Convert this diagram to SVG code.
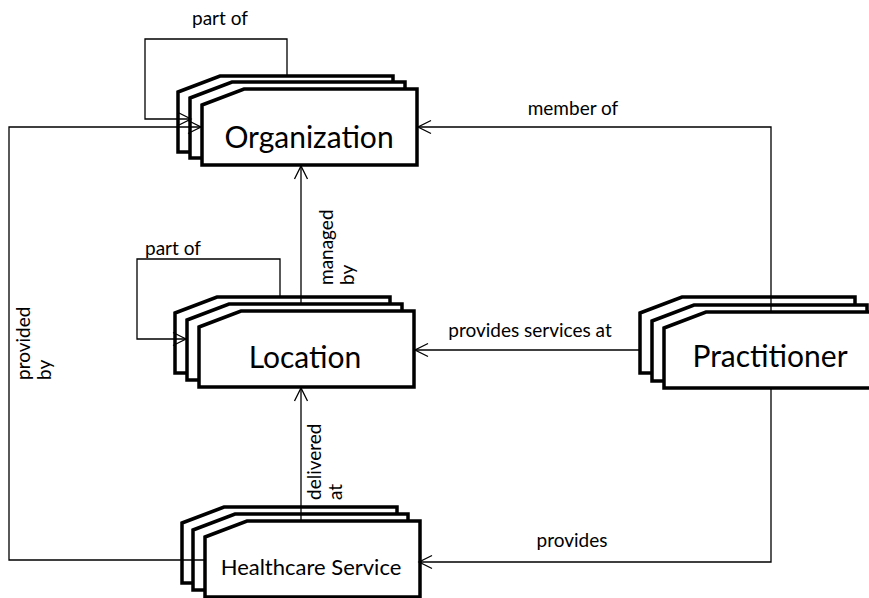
<svg xmlns="http://www.w3.org/2000/svg" width="869" height="598" viewBox="0 0 869 598">
<style>
.shape{fill:#fff;stroke:#000;stroke-width:3.5;stroke-linejoin:miter}
.conn{fill:none;stroke:#000;stroke-width:1.3}
.big{font-family:Lato,"Open Sans",sans-serif;font-size:30px;fill:#000;text-anchor:middle}
.mid{font-family:Lato,"Open Sans",sans-serif;font-size:22px;fill:#000;text-anchor:middle}
.lbl{font-family:Lato,"Open Sans",sans-serif;font-size:19px;fill:#000}
.c{text-anchor:middle}
</style>
<defs>
<path id="card" d="M0,16 L42,0 L215,0 L215,76 L0,76 Z"/>
<marker id="arr" markerUnits="userSpaceOnUse" markerWidth="16" markerHeight="16" viewBox="-14 -8 16 16" refX="0" refY="0" orient="auto">
<path d="M-13,-6.5 L0,0 L-13,6.5" fill="none" stroke="#000" stroke-width="1.3"/>
</marker>
</defs>
<rect width="869" height="598" fill="#fff"/>
<g id="organization">
<use href="#card" class="shape" x="178" y="76"/>
<use href="#card" class="shape" x="190" y="82"/>
<use href="#card" class="shape" x="202" y="89"/>
<text class="big" x="309" y="148">Organization</text>
</g>
<g id="location">
<use href="#card" class="shape" x="175" y="297"/>
<use href="#card" class="shape" x="187" y="304"/>
<use href="#card" class="shape" x="199" y="311"/>
<text class="big" x="305" y="368">Location</text>
</g>
<g id="practitioner">
<use href="#card" class="shape" x="640" y="297"/>
<use href="#card" class="shape" x="652" y="305"/>
<use href="#card" class="shape" x="664" y="312"/>
<text class="big" x="770" y="367">Practitioner</text>
</g>
<g id="healthcare-service">
<use href="#card" class="shape" x="182" y="507"/>
<use href="#card" class="shape" x="193" y="514"/>
<use href="#card" class="shape" x="205" y="521"/>
<text class="mid" x="311" y="575">Healthcare Service</text>
</g>
<g id="connectors">
<path class="conn" d="M287,76 V39 H145 V119 H191" marker-end="url(#arr)"/>
<path class="conn" d="M280,297 V259 H137 V339 H186" marker-end="url(#arr)"/>
<path class="conn" d="M771,312 V127 H418" marker-end="url(#arr)"/>
<path class="conn" d="M640,350 H415" marker-end="url(#arr)"/>
<path class="conn" d="M771,387 V562 H419" marker-end="url(#arr)"/>
<path class="conn" d="M205,560 H9 V127 H201" marker-end="url(#arr)"/>
<path class="conn" d="M301,303 V166" marker-end="url(#arr)"/>
<path class="conn" d="M301,521 V388" marker-end="url(#arr)"/>
<text class="lbl c" x="220" y="25">part of</text>
<text class="lbl c" x="173" y="255">part of</text>
<text class="lbl c" x="573" y="115">member of</text>
<text class="lbl c" x="530" y="337">provides services at</text>
<text class="lbl c" x="572" y="547">provides</text>
<text class="lbl" transform="translate(333,285) rotate(-90)"><tspan x="0" y="0">managed</tspan><tspan x="0" y="21">by</tspan></text>
<text class="lbl" transform="translate(321,500) rotate(-90)"><tspan x="0" y="0">delivered</tspan><tspan x="0" y="21">at</tspan></text>
<text class="lbl" transform="translate(30,380) rotate(-90)"><tspan x="0" y="0">provided</tspan><tspan x="0" y="21">by</tspan></text>
</g>
</svg>
